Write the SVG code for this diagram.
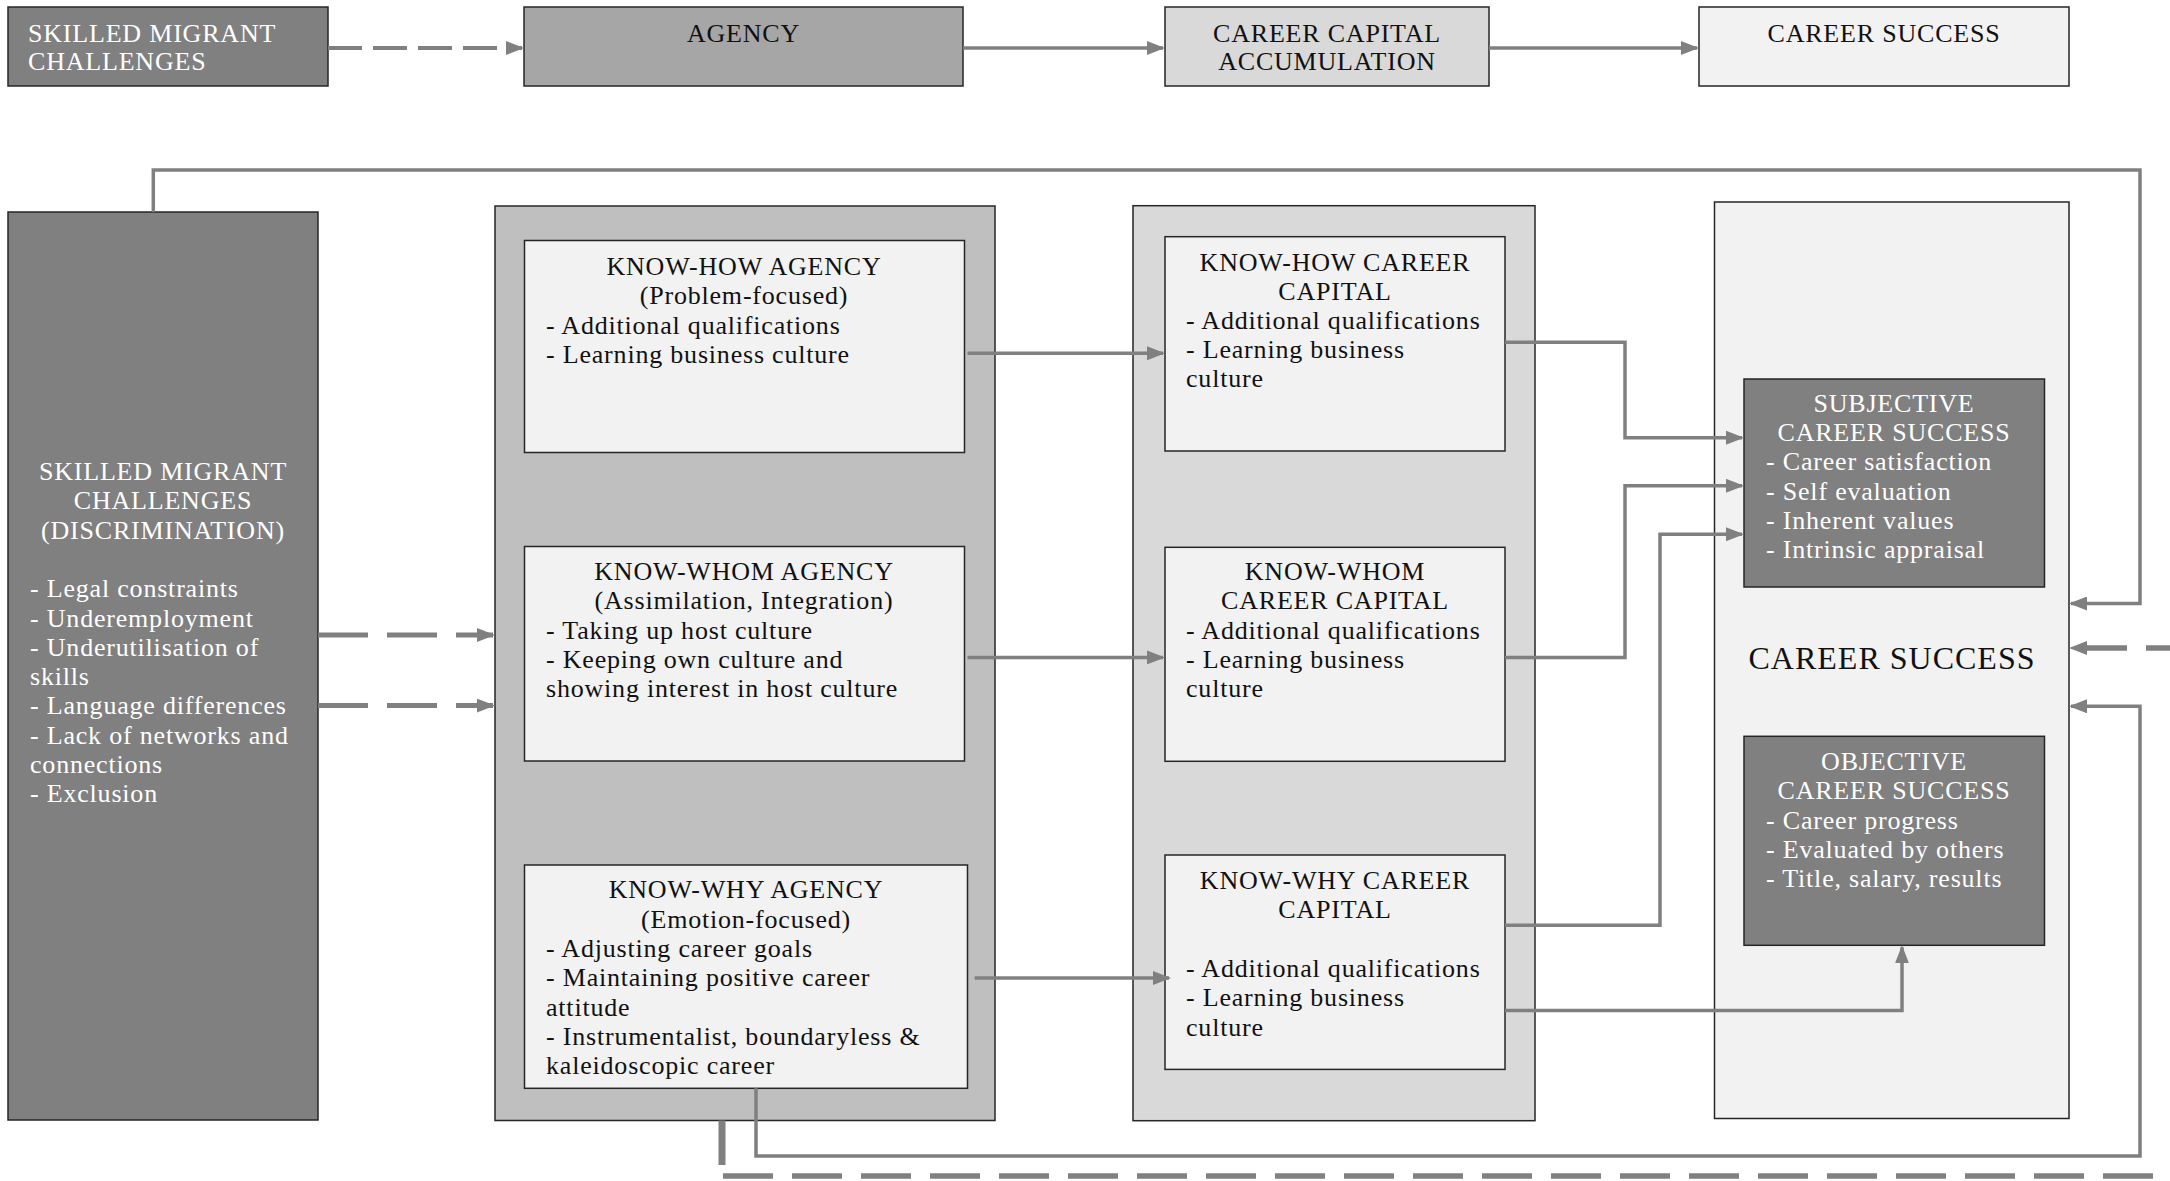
<svg xmlns="http://www.w3.org/2000/svg" width="2170" height="1181" viewBox="0 0 2170 1181">
  <style>
    .t { font-family: "Liberation Serif", "Times New Roman", serif; font-size: 26px; letter-spacing: 0.8px; fill: #111; }
    .w { fill: #ffffff; }
    .c { text-anchor: middle; }
    .big { font-size: 32px; letter-spacing: 1px; }
    .box { stroke: #262626; stroke-width: 1.5; }
    .dark { fill: #808080; }
    .mid { fill: #a6a6a6; }
    .agencybg { fill: #bfbfbf; }
    .light { fill: #d9d9d9; }
    .pale { fill: #f2f2f2; }
    .ln { fill: none; stroke: #808080; stroke-width: 3.5; }
    .arr { marker-end: url(#ah); }
    .dash-s { stroke-width: 4; stroke-dasharray: 34 11; }
    .dash-l { stroke-width: 5; stroke-dasharray: 50 19; }
  </style>
  <defs>
    <marker id="ah" markerUnits="userSpaceOnUse" markerWidth="18" markerHeight="14" refX="16" refY="7" orient="auto">
      <path d="M0,0 L18,7 L0,14 z" fill="#808080"/>
    </marker>
  </defs>

  <rect width="2170" height="1181" fill="#ffffff"/>

  <!-- top row: summary chain -->
  <g id="top-challenges">
    <rect class="box dark" x="8" y="7" width="320" height="79"/>
    <text class="t w" x="28" y="41.5">SKILLED MIGRANT</text>
    <text class="t w" x="28" y="70">CHALLENGES</text>
  </g>
  <g id="top-agency">
    <rect class="box mid" x="524" y="7" width="439" height="79"/>
    <text class="t c" x="743.5" y="41.5">AGENCY</text>
  </g>
  <g id="top-capital">
    <rect class="box light" x="1165" y="7" width="324" height="79"/>
    <text class="t c" x="1327" y="41.5">CAREER CAPITAL</text>
    <text class="t c" x="1327" y="70">ACCUMULATION</text>
  </g>
  <g id="top-success">
    <rect class="box pale" x="1699" y="7" width="370" height="79"/>
    <text class="t c" x="1884" y="41.5">CAREER SUCCESS</text>
  </g>

  <!-- main: challenges column -->
  <g id="challenges">
    <rect class="box dark" x="8" y="212" width="310" height="908"/>
    <text class="t w c" x="163" y="480">SKILLED MIGRANT</text>
    <text class="t w c" x="163" y="509.3">CHALLENGES</text>
    <text class="t w c" x="163" y="538.6">(DISCRIMINATION)</text>
    <text class="t w" x="30" y="597.2">- Legal constraints</text>
    <text class="t w" x="30" y="626.5">- Underemployment</text>
    <text class="t w" x="30" y="655.8">- Underutilisation of</text>
    <text class="t w" x="30" y="685.1">skills</text>
    <text class="t w" x="30" y="714.4">- Language differences</text>
    <text class="t w" x="30" y="743.7">- Lack of networks and</text>
    <text class="t w" x="30" y="773">connections</text>
    <text class="t w" x="30" y="802.3">- Exclusion</text>
  </g>

  <!-- agency column -->
  <g id="agency">
    <rect class="box agencybg" x="495" y="206" width="500" height="914.5"/>
  </g>
  <g id="know-how-agency">
    <rect class="box pale" x="524.5" y="240.5" width="440" height="212"/>
    <text class="t c" x="744" y="275">KNOW-HOW AGENCY</text>
    <text class="t c" x="744" y="304.3">(Problem-focused)</text>
    <text class="t" x="546" y="333.6">- Additional qualifications</text>
    <text class="t" x="546" y="362.9">- Learning business culture</text>
  </g>
  <g id="know-whom-agency">
    <rect class="box pale" x="524.5" y="546.5" width="440" height="214.5"/>
    <text class="t c" x="744" y="580">KNOW-WHOM AGENCY</text>
    <text class="t c" x="744" y="609.3">(Assimilation, Integration)</text>
    <text class="t" x="546" y="638.6">- Taking up host culture</text>
    <text class="t" x="546" y="667.9">- Keeping own culture and</text>
    <text class="t" x="546" y="697.2">showing interest in host culture</text>
  </g>
  <g id="know-why-agency">
    <rect class="box pale" x="524.5" y="865" width="443" height="223.3"/>
    <text class="t c" x="746" y="898.3">KNOW-WHY AGENCY</text>
    <text class="t c" x="746" y="927.6">(Emotion-focused)</text>
    <text class="t" x="546" y="956.9">- Adjusting career goals</text>
    <text class="t" x="546" y="986.2">- Maintaining positive career</text>
    <text class="t" x="546" y="1015.5">attitude</text>
    <text class="t" x="546" y="1044.8">- Instrumentalist, boundaryless &amp;</text>
    <text class="t" x="546" y="1074.1">kaleidoscopic career</text>
  </g>

  <!-- career capital column -->
  <g id="capital">
    <rect class="box light" x="1133" y="205.7" width="402" height="915"/>
  </g>
  <g id="know-how-capital">
    <rect class="box pale" x="1165" y="236.7" width="340" height="214.3"/>
    <text class="t c" x="1335" y="270.7">KNOW-HOW CAREER</text>
    <text class="t c" x="1335" y="299.7">CAPITAL</text>
    <text class="t" x="1186" y="328.7">- Additional qualifications</text>
    <text class="t" x="1186" y="357.7">- Learning business</text>
    <text class="t" x="1186" y="386.7">culture</text>
  </g>
  <g id="know-whom-capital">
    <rect class="box pale" x="1165" y="547.3" width="340" height="214"/>
    <text class="t c" x="1335" y="580">KNOW-WHOM</text>
    <text class="t c" x="1335" y="609.3">CAREER CAPITAL</text>
    <text class="t" x="1186" y="638.6">- Additional qualifications</text>
    <text class="t" x="1186" y="667.9">- Learning business</text>
    <text class="t" x="1186" y="697.2">culture</text>
  </g>
  <g id="know-why-capital">
    <rect class="box pale" x="1165" y="855" width="340" height="214.4"/>
    <text class="t c" x="1335" y="889">KNOW-WHY CAREER</text>
    <text class="t c" x="1335" y="918.3">CAPITAL</text>
    <text class="t" x="1186" y="976.9">- Additional qualifications</text>
    <text class="t" x="1186" y="1006.2">- Learning business</text>
    <text class="t" x="1186" y="1035.5">culture</text>
  </g>

  <!-- career success column -->
  <g id="career-success">
    <rect class="box pale" x="1714.5" y="202" width="354.5" height="916.5"/>
    <text class="t c big" x="1892" y="668.5">CAREER SUCCESS</text>
  </g>
  <g id="subjective-success">
    <rect class="box dark" x="1744" y="379" width="300.5" height="208"/>
    <text class="t w c" x="1894" y="411.7">SUBJECTIVE</text>
    <text class="t w c" x="1894" y="441">CAREER SUCCESS</text>
    <text class="t w" x="1766" y="470.3">- Career satisfaction</text>
    <text class="t w" x="1766" y="499.6">- Self evaluation</text>
    <text class="t w" x="1766" y="528.9">- Inherent values</text>
    <text class="t w" x="1766" y="558.2">- Intrinsic appraisal</text>
  </g>
  <g id="objective-success">
    <rect class="box dark" x="1744" y="736.3" width="300.5" height="209"/>
    <text class="t w c" x="1894" y="770">OBJECTIVE</text>
    <text class="t w c" x="1894" y="799.3">CAREER SUCCESS</text>
    <text class="t w" x="1766" y="828.6">- Career progress</text>
    <text class="t w" x="1766" y="857.9">- Evaluated by others</text>
    <text class="t w" x="1766" y="887.2">- Title, salary, results</text>
  </g>

  <!-- connectors -->
  <g id="connectors">
    <!-- top chain -->
    <path class="ln arr dash-s" d="M328,48 H522"/>
    <path class="ln arr" d="M963,48 H1163"/>
    <path class="ln arr" d="M1489,48 H1697"/>

    <!-- challenges to agency -->
    <path class="ln arr dash-l" d="M318,635 H493"/>
    <path class="ln arr dash-l" d="M318,705.6 H493"/>

    <!-- agency to career capital -->
    <path class="ln arr" d="M967.5,353.3 H1163"/>
    <path class="ln arr" d="M967.5,657.4 H1163"/>
    <path class="ln arr" d="M974.6,978 H1169"/>

    <!-- career capital to career success -->
    <path class="ln arr" d="M1505,342.3 H1625 V437.7 H1742"/>
    <path class="ln arr" d="M1505,657.4 H1625 V485.8 H1742"/>
    <path class="ln arr" d="M1505,925.3 H1660 V534.3 H1742"/>
    <path class="ln arr" d="M1505,1010.5 H1902 V947.3"/>

    <!-- feedback loops -->
    <path class="ln arr" d="M153.3,212 V170 H2140 V603.5 H2071"/>
    <path class="ln arr" d="M756,1088.3 V1156 H2140 V706.3 H2071"/>
    <path class="ln" style="stroke-width:7" d="M722,1120.5 V1165"/>
    <path class="ln" style="stroke-width:5.5;stroke-dasharray:50 19" d="M723,1176 H2200"/>
    <path class="ln arr" style="stroke-width:5.5;stroke-dasharray:50 19" d="M2196,648 H2071"/>
  </g>
</svg>
